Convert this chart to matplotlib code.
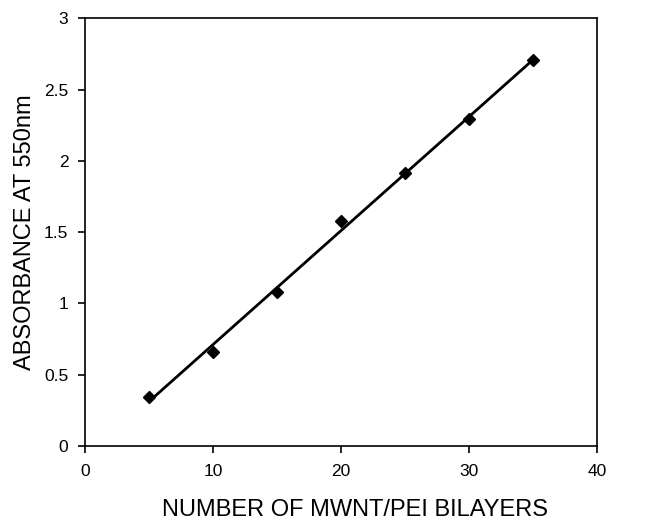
import numpy as np
import matplotlib.pyplot as plt

plt.rcParams['font.family'] = ['Liberation Sans', 'DejaVu Sans']

bilayers = [5, 10, 15, 20, 25, 30, 35]
absorbance = [0.345, 0.66, 1.077, 1.577, 1.918, 2.29, 2.707]

fig = plt.figure(figsize=(6.54, 5.21), dpi=100)
ax = fig.add_axes([0.13, 0.144, 0.783, 0.821])

# linear trendline through the points
slope, intercept = np.polyfit(bilayers, absorbance, 1)
xs = np.array([bilayers[0], bilayers[-1]])
ax.plot(xs, slope * xs + intercept, color='black', lw=2)
ax.plot(bilayers, absorbance, 'D', color='black', ms=6)

ax.set_xlim(0, 40)
ax.set_ylim(0, 3)
ax.set_xticks([0, 10, 20, 30, 40])
ax.set_yticks([0, 0.5, 1, 1.5, 2, 2.5, 3])
ax.set_yticklabels(['0', '0.5', '1', '1.5', '2', '2.5', '3'])
ax.tick_params(direction='out', length=5, width=1.2, labelsize=12.5)
ax.tick_params(axis='x', pad=8)
ax.tick_params(axis='y', pad=7)
for s in ax.spines.values():
    s.set_linewidth(1.2)

ax.set_xlabel('NUMBER OF MWNT/PEI BILAYERS', fontsize=17)
ax.xaxis.set_label_coords(0.527, -0.125)
ax.set_ylabel('ABSORBANCE AT 550nm', fontsize=17, labelpad=6)

fig.savefig('out.png', dpi=100)
